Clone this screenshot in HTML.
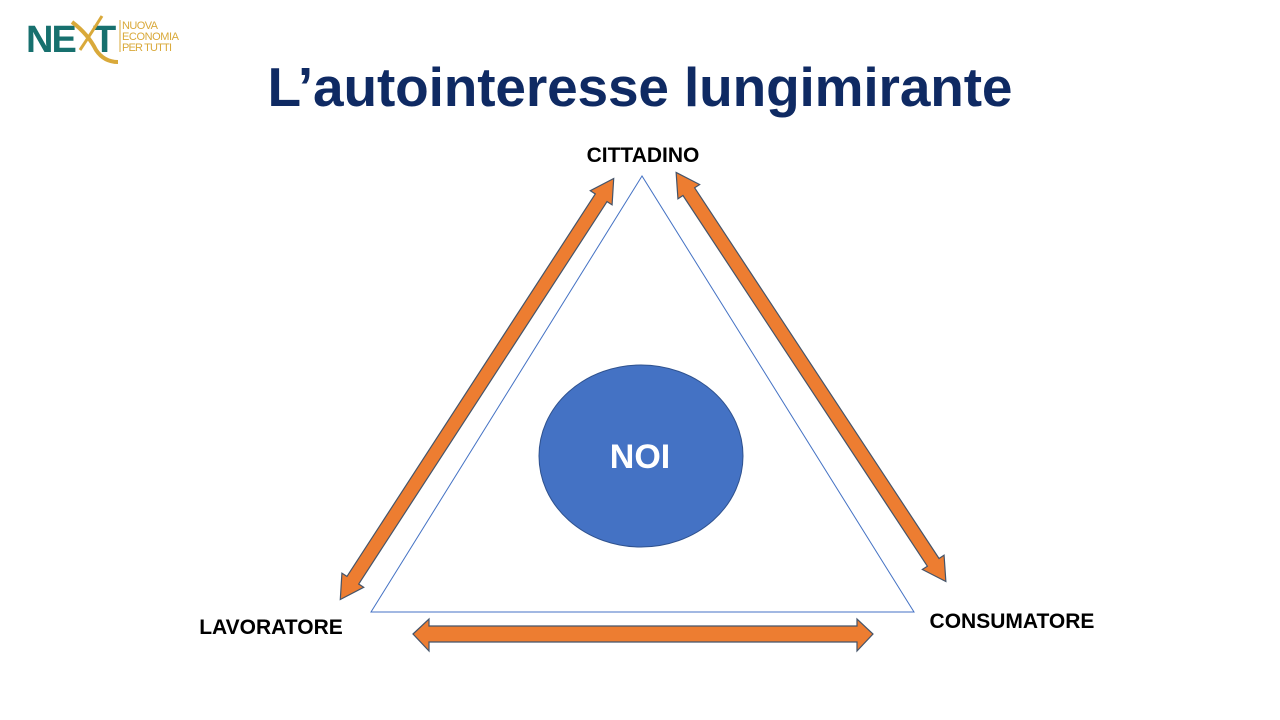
<!DOCTYPE html>
<html><head><meta charset="utf-8"><style>
html,body{margin:0;padding:0;background:#fff;}
body{width:1280px;height:720px;position:relative;overflow:hidden;font-family:"Liberation Sans",sans-serif;}
</style></head><body>
<svg width="1280" height="720" xmlns="http://www.w3.org/2000/svg" style="position:absolute;left:0;top:0">
  <!-- logo -->
  <text x="26" y="52" font-family="Liberation Sans" font-weight="bold" font-size="38" fill="#17706e" letter-spacing="-2">NE</text>
  <text x="93" y="52" font-family="Liberation Sans" font-weight="bold" font-size="38" fill="#17706e">T</text>
  <path d="M72 22 Q88 34 96 50 Q104 62 118 62" stroke="#d9a93a" stroke-width="4" fill="none"/>
  <path d="M102 16 Q92 32 80 50" stroke="#d9a93a" stroke-width="3" fill="none"/>
  <line x1="120" y1="20" x2="120" y2="52" stroke="#d9a93a" stroke-width="1"/>
  <text x="122" y="29" font-family="Liberation Sans" font-size="11" fill="#d9a93a" textLength="36">NUOVA</text>
  <text x="122" y="40" font-family="Liberation Sans" font-size="11" fill="#d9a93a" textLength="57">ECONOMIA</text>
  <text x="122" y="51" font-family="Liberation Sans" font-size="11" fill="#d9a93a" textLength="50">PER TUTTI</text>

  <text x="640" y="106" text-anchor="middle" font-family="Liberation Sans" font-weight="bold" font-size="55" fill="#0f2a63" textLength="745">L’autointeresse lungimirante</text>

  <polygon points="642,176 371,612 914,612" fill="#fff" stroke="#4472c4" stroke-width="1"/>
  <ellipse cx="641" cy="456" rx="102" ry="91" fill="#4472c4" stroke="#2f528f" stroke-width="1"/>
  <text x="640" y="468" text-anchor="middle" font-family="Liberation Sans" font-weight="bold" font-size="34" fill="#fff">NOI</text>

  <g fill="#ed7d31" stroke="#44546a" stroke-width="1.2">
    <g transform="translate(477,389) rotate(123)">
      <polygon points="-251,0 -228,-13 -228,-7 228,-7 228,-13 251,0 228,13 228,7 -228,7 -228,13"/>
    </g>
    <g transform="translate(811,377) rotate(56.6)">
      <polygon points="-245,0 -222,-13 -222,-7 222,-7 222,-13 245,0 222,13 222,7 -222,7 -222,13"/>
    </g>
    <polygon points="413,634 429,619 429,626 857,626 857,619 873,634 857,651 857,642 429,642 429,651"/>
  </g>

  <g font-family="Liberation Sans" font-weight="bold" font-size="21" fill="#000">
    <text x="643" y="162" text-anchor="middle">CITTADINO</text>
    <text x="271" y="634" text-anchor="middle">LAVORATORE</text>
    <text x="1012" y="628" text-anchor="middle">CONSUMATORE</text>
  </g>
</svg>
</body></html>
